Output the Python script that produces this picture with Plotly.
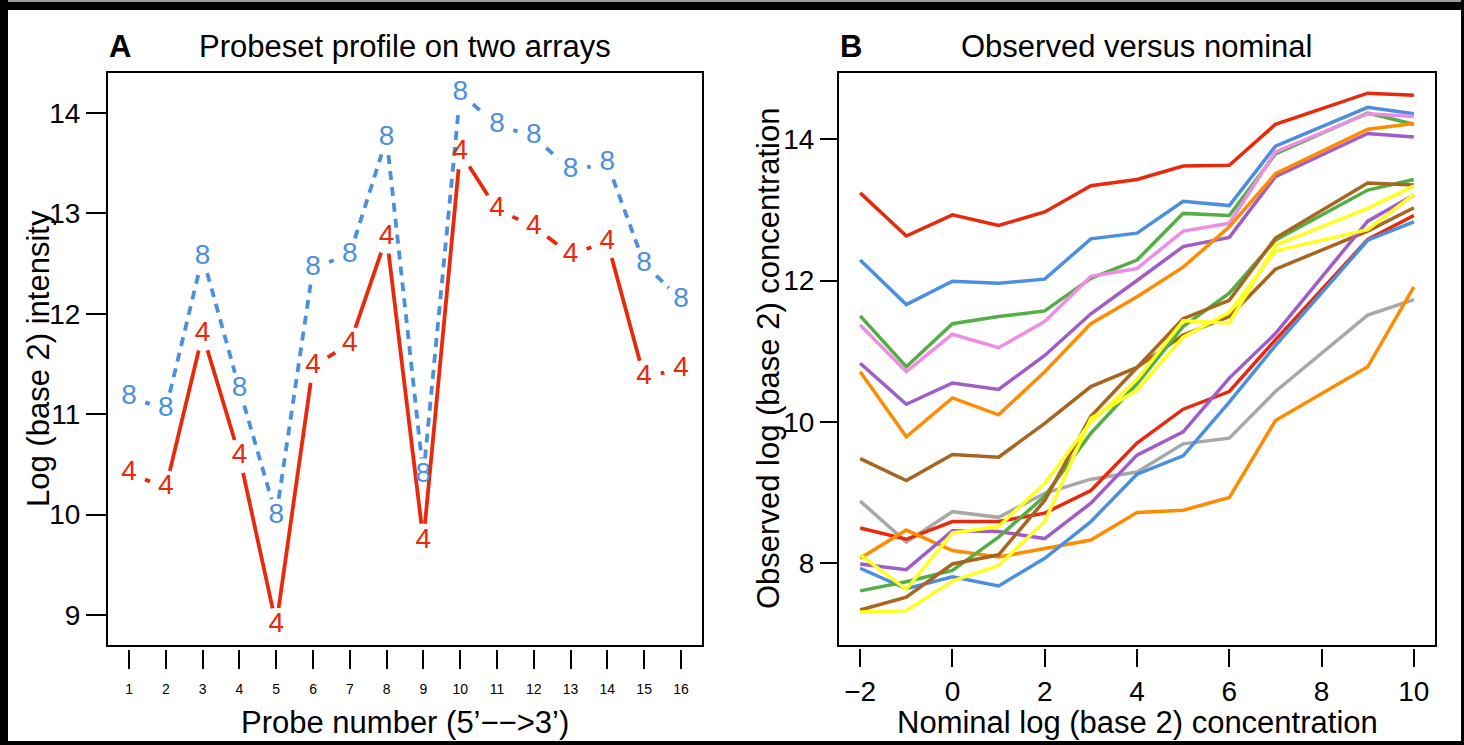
import plotly.graph_objects as go

W, H = 1464, 745
FONT = "Liberation Sans, Arial, Helvetica, sans-serif"

# ---------------- Panel A data ----------------
probes = list(range(1, 17))
probe_ticks = [str(i) for i in probes]
array8 = [11.17, 11.05, 12.57, 11.25, 9.99, 12.46, 12.59, 13.75,
          10.39, 14.20, 13.88, 13.77, 13.43, 13.50, 12.50, 12.14]
array4 = [10.41, 10.27, 11.80, 10.58, 8.90, 11.48, 11.70, 12.77,
          9.74, 13.61, 13.04, 12.87, 12.59, 12.72, 11.37, 11.45]
a_yticks = [9, 10, 11, 12, 13, 14]

# ---------------- Panel B data ----------------
nominal = [-2, -1, 0, 1, 2, 3, 4, 5, 6, 7, 9, 10]
b_xticks = [-2, 0, 2, 4, 6, 8, 10]
b_yticks = [8, 10, 12, 14]

red_hi    = [13.24, 12.63, 12.93, 12.78, 12.97, 13.34, 13.43, 13.62, 13.63, 14.21, 14.65, 14.62]
blue_hi   = [12.29, 11.66, 11.99, 11.96, 12.02, 12.59, 12.67, 13.12, 13.06, 13.90, 14.45, 14.36]
green_hi  = [11.50, 10.78, 11.39, 11.49, 11.57, 12.03, 12.29, 12.95, 12.92, 13.79, 14.37, 14.21]
pink_hi   = [11.37, 10.71, 11.24, 11.05, 11.42, 12.06, 12.17, 12.70, 12.81, 13.82, 14.36, 14.32]
purple_hi = [10.83, 10.25, 10.55, 10.46, 10.94, 11.53, 12.00, 12.48, 12.61, 13.47, 14.08, 14.03]
orange_hi = [10.71, 9.79, 10.34, 10.10, 10.71, 11.39, 11.77, 12.19, 12.76, 13.51, 14.14, 14.22]
brown_hi  = [9.48, 9.17, 9.54, 9.50, 9.98, 10.50, 10.77, 11.23, 11.49, 12.16, 12.70, 13.03]
gray_lo   = [8.88, 8.30, 8.73, 8.65, 8.99, 9.19, 9.29, 9.69, 9.77, 10.43, 11.51, 11.73]
red_lo    = [8.50, 8.34, 8.59, 8.59, 8.71, 9.03, 9.70, 10.18, 10.43, 11.16, 12.58, 12.92]
orange_lo = [8.07, 8.47, 8.18, 8.09, 8.21, 8.33, 8.72, 8.75, 8.93, 10.02, 10.78, 11.91]
purple_lo = [7.99, 7.91, 8.46, 8.45, 8.35, 8.85, 9.53, 9.86, 10.62, 11.25, 12.84, 13.21]
blue_lo   = [7.93, 7.64, 7.81, 7.68, 8.07, 8.59, 9.26, 9.52, 10.28, 11.08, 12.57, 12.83]
green_lo  = [7.61, 7.74, 7.90, 8.37, 8.95, 9.84, 10.54, 11.35, 11.82, 12.57, 13.28, 13.43]
brown_lo  = [7.34, 7.52, 7.99, 8.12, 8.89, 10.08, 10.77, 11.46, 11.72, 12.60, 13.38, 13.35]
yellow_a  = [8.12, 7.63, 8.43, 8.52, 9.13, 10.00, 10.60, 11.43, 11.40, 12.50, 13.02, 13.34]
yellow_b  = [7.31, 7.33, 7.75, 7.97, 8.59, 10.05, 10.45, 11.20, 11.55, 12.42, 12.72, 13.22]

RED, BLUE, GREEN, PINK = "#E8290C", "#4A8FE0", "#52AE45", "#F08CE6"
PURPLE, ORANGE, BROWN, GRAY, YELLOW = "#A05CC8", "#FF8C00", "#A8651E", "#A8A8A8", "#FFFF22"

series_b = [
    (red_hi, RED), (blue_hi, BLUE), (green_hi, GREEN), (pink_hi, PINK),
    (purple_hi, PURPLE), (orange_hi, ORANGE), (brown_hi, BROWN),
    (gray_lo, GRAY), (red_lo, RED), (orange_lo, ORANGE), (purple_lo, PURPLE),
    (blue_lo, BLUE), (green_lo, GREEN), (brown_lo, BROWN),
    (yellow_a, YELLOW), (yellow_b, YELLOW),
]

# ---------------- layout geometry (pixels) ----------------
A_X0, A_X1 = 107, 703
B_X0, B_X1 = 838, 1436
BOX_TOP, BOX_BOT = 72, 646
A_XRANGE = [0.4, 16.6]
A_YRANGE = [8.69, 14.41]
B_XRANGE = [-2.48, 10.48]
B_YRANGE = [6.83, 14.95]


def gapped(xs, ys, xr, yr, wpx, hpx, gap):
    """Segments between consecutive points with a gap around each point (R type='b')."""
    sx = wpx / (xr[1] - xr[0])
    sy = hpx / (yr[1] - yr[0])
    X, Y = [], []
    for i in range(len(xs) - 1):
        dx = (xs[i + 1] - xs[i]) * sx
        dy = (ys[i + 1] - ys[i]) * sy
        d = (dx * dx + dy * dy) ** 0.5
        if d <= 2 * gap:
            continue
        t = gap / d
        ddx = xs[i + 1] - xs[i]
        ddy = ys[i + 1] - ys[i]
        X += [xs[i] + t * ddx, xs[i + 1] - t * ddx, None]
        Y += [ys[i] + t * ddy, ys[i + 1] - t * ddy, None]
    return X, Y


fig = go.Figure()

GAP = 17
for vals, col, dash in [(array8, BLUE, "9px,7px"), (array4, RED, "solid")]:
    gx, gy = gapped(probes, vals, A_XRANGE, A_YRANGE, A_X1 - A_X0, BOX_BOT - BOX_TOP, GAP)
    fig.add_trace(go.Scatter(x=gx, y=gy, mode="lines", xaxis="x", yaxis="y",
                             line=dict(color=col, width=3.8, dash=dash),
                             showlegend=False, hoverinfo="skip"))
for vals, col, ch in [(array8, BLUE, "8"), (array4, RED, "4")]:
    fig.add_trace(go.Scatter(x=probes, y=vals, mode="text", xaxis="x", yaxis="y",
                             text=[ch] * len(vals), textposition="middle center",
                             textfont=dict(family=FONT, size=28, color=col),
                             showlegend=False, cliponaxis=False))

for vals, col in series_b:
    fig.add_trace(go.Scatter(x=nominal, y=vals, mode="lines", xaxis="x2", yaxis="y2",
                             line=dict(color=col, width=3.5),
                             showlegend=False))

axis_common = dict(showgrid=False, zeroline=False, showline=False, ticks="outside",
                   tickcolor="black", tickwidth=2, color="black")

fig.update_layout(
    width=W, height=H,
    margin=dict(l=0, r=0, t=0, b=0),
    paper_bgcolor="white", plot_bgcolor="white",
    font=dict(family=FONT, color="black"),
    xaxis=dict(domain=[A_X0 / W, A_X1 / W], range=A_XRANGE, anchor="free",
               position=1 - 649 / H, tickmode="array", tickvals=probes, ticktext=probe_ticks,
               ticklen=19, tickfont=dict(size=14), ticklabelstandoff=8, **axis_common),
    yaxis=dict(domain=[1 - BOX_BOT / H, 1 - BOX_TOP / H], range=A_YRANGE, anchor="x",
               tickmode="array", tickvals=a_yticks, ticklen=20,
               tickfont=dict(size=28), **axis_common),
    xaxis2=dict(domain=[B_X0 / W, B_X1 / W], range=B_XRANGE, anchor="free",
                position=1 - 648 / H, tickmode="array", tickvals=b_xticks,
                ticklen=18, tickfont=dict(size=28), ticklabelstandoff=0, **axis_common),
    yaxis2=dict(domain=[1 - BOX_BOT / H, 1 - BOX_TOP / H], range=B_YRANGE, anchor="x2",
                tickmode="array", tickvals=b_yticks, ticklen=17,
                tickfont=dict(size=28), **axis_common),
)

shapes = [
    dict(type="rect", xref="x domain", yref="y domain", x0=0, x1=1, y0=0, y1=1,
         line=dict(color="black", width=2)),
    dict(type="rect", xref="x2 domain", yref="y2 domain", x0=0, x1=1, y0=0, y1=1,
         line=dict(color="black", width=2)),
    # outer frame
    dict(type="rect", xref="paper", yref="paper", x0=0, x1=1, y0=1 - 2 / H, y1=1,
         fillcolor="#9a9a9a", line=dict(width=0)),
    dict(type="rect", xref="paper", yref="paper", x0=0, x1=1, y0=1 - 10 / H, y1=1 - 2 / H,
         fillcolor="black", line=dict(width=0)),
    dict(type="rect", xref="paper", yref="paper", x0=0, x1=8 / W, y0=0, y1=1,
         fillcolor="black", line=dict(width=0)),
    dict(type="rect", xref="paper", yref="paper", x0=1 - 3 / W, x1=1, y0=0, y1=1,
         fillcolor="black", line=dict(width=0)),
    dict(type="rect", xref="paper", yref="paper", x0=0, x1=1, y0=0, y1=4 / H,
         fillcolor="black", line=dict(width=0)),
]
fig.update_layout(shapes=shapes)


def ann(text, xpx, ypx, size=31, xanchor="center", angle=0, bold=False):
    return dict(text=("<b>%s</b>" % text) if bold else text, xref="paper", yref="paper",
                x=xpx / W, y=1 - ypx / H, xanchor=xanchor, yanchor="middle",
                showarrow=False, textangle=angle,
                font=dict(family=FONT, size=size, color="black"))


fig.update_layout(annotations=[
    ann("A", A_X0, 47, bold=True, xanchor="left"),
    ann("Probeset profile on two arrays", (A_X0 + A_X1) / 2, 47),
    ann("B", B_X0, 47, bold=True, xanchor="left"),
    ann("Observed versus nominal", (B_X0 + B_X1) / 2, 47),
    ann("Probe number (5’−−>3’)", (A_X0 + A_X1) / 2, 722),
    ann("Nominal log (base 2) concentration", (B_X0 + B_X1) / 2, 722),
    ann("Log (base 2) intensity", 38, (BOX_TOP + BOX_BOT) / 2, angle=-90),
    ann("Observed log (base 2) concentration", 768, (BOX_TOP + BOX_BOT) / 2, angle=-90),
])

fig.write_html("out.html")
